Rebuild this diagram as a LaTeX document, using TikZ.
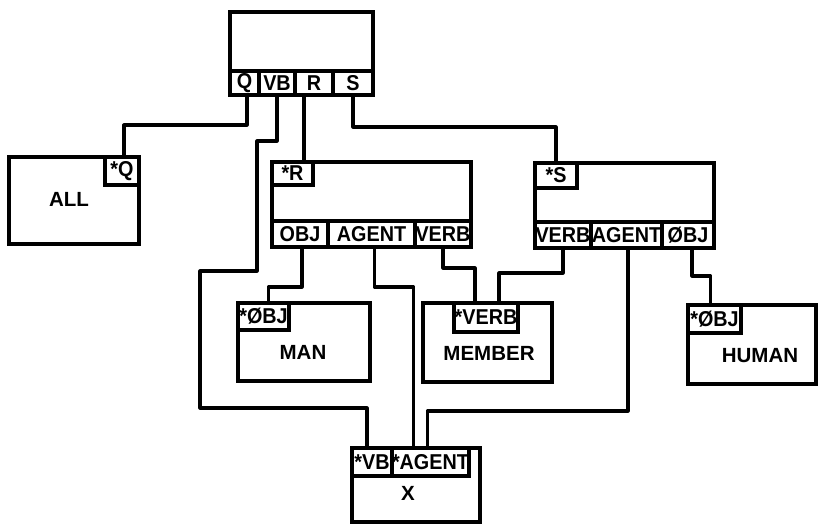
\documentclass[tikz,border=0pt]{standalone}
\usepackage{fontspec}
\setmainfont{Liberation Sans}
\newfontfamily\slotfont{Liberation Sans}[FakeStretch=0.92]
\begin{document}
\begin{tikzpicture}[x=1pt,y=-1pt,
  frame/.style={draw, line width=3.2pt, inner sep=0pt, outer sep=0pt, anchor=north west},
  slot/.style={frame, font=\slotfont\fontsize{21.5}{23}\selectfont\bfseries},
  txt/.style={inner sep=0pt, font=\fontsize{20.5}{22}\selectfont\bfseries},
  conn/.style={line width=3.2pt, line join=round}]
\useasboundingbox (0,0) rectangle (818,523);
% top box
\node[frame, minimum width=143pt, minimum height=83pt] (top) at (230,12) {};
\node[slot, minimum width=29pt, minimum height=24pt] (q) at (230,71) {Q};
\node[slot, minimum width=36pt, minimum height=24pt] (vb) at (259,71) {VB};
\node[slot, minimum width=38pt, minimum height=24pt] (r) at (295,71) {R};
\node[slot, minimum width=40pt, minimum height=24pt] (s) at (333,71) {S};
% ALL
\node[frame, minimum width=130pt, minimum height=87pt] (allbox) at (9,157) {};
\node[slot, minimum width=34pt, minimum height=28pt] (allq) at (105,157) {*Q};
\node[txt] (alltxt) at (69,199) {ALL};
% R box
\node[frame, minimum width=199pt, minimum height=85pt] (rbox) at (272,162) {};
\node[slot, minimum width=41pt, minimum height=23pt] (rstar) at (272,162) {*R};
\node[slot, minimum width=56pt, minimum height=26pt] (robj) at (272,221) {OBJ};
\node[slot, minimum width=87pt, minimum height=26pt] (ragent) at (328,221) {AGENT};
\node[slot, minimum width=56pt, minimum height=26pt] (rverb) at (415,221) {VERB};
% S box
\node[frame, minimum width=179pt, minimum height=85pt] (sbox) at (535,163) {};
\node[slot, minimum width=42pt, minimum height=25pt] (sstar) at (535,163) {*S};
\node[slot, minimum width=56pt, minimum height=26pt] (sverb) at (535,222) {VERB};
\node[slot, minimum width=71pt, minimum height=26pt] (sagent) at (591,222) {AGENT};
\node[slot, minimum width=52pt, minimum height=26pt] (sobj) at (662,222) {ØBJ};
% MAN
\node[frame, minimum width=132pt, minimum height=78pt] (manbox) at (238,303) {};
\node[slot, minimum width=51pt, minimum height=27pt] (manobj) at (238,303) {*ØBJ};
\node[txt] (mantxt) at (303,352) {MAN};
% MEMBER
\node[frame, minimum width=129pt, minimum height=79pt] (membox) at (423,303) {};
\node[slot, minimum width=64pt, minimum height=29pt] (memverb) at (454,303) {*VERB};
\node[txt] (memtxt) at (489,353) {MEMBER};
% HUMAN
\node[frame, minimum width=128pt, minimum height=79pt] (humbox) at (688,305) {};
\node[slot, minimum width=53pt, minimum height=28pt] (humobj) at (688,305) {*ØBJ};
\node[txt] (humtxt) at (760,356) {HUMAN};
% X
\node[frame, minimum width=128pt, minimum height=74pt] (xbox) at (352,448) {};
\node[slot, minimum width=40pt, minimum height=28pt] (xvb) at (352,448) {*VB};
\node[slot, minimum width=76pt, minimum height=28pt] (xagent) at (392,448) {*AGENT};
\node[txt] (xtxt) at (408,493) {X};
% connectors
\draw[conn] ([xshift=2.5pt]q.south) -- ++(0,30) -| ([xshift=2pt]allq.north);
\draw[conn] (vb.south) -- ++(0,46) -- ++(-20,0) -- ++(0,130) -- ++(-57,0) -- ++(0,137) -| ([xshift=-5pt]xvb.north);
\draw[conn] ([xshift=-10pt]r.south) -- ([xshift=-10pt]r.south |- rbox.north);
\draw[conn] (s.south) -- ++(0,32) -| (sstar.north);
\draw[conn] ([xshift=2pt]robj.south) -- ++(0,40) -| ([xshift=5pt]manobj.north);
\draw[conn] ([xshift=3pt]ragent.south) -- ++(0,40) -| ([xshift=-17pt]xagent.north);
\draw[conn] (rverb.south) -- ++(0,21) -| ([xshift=-11pt]memverb.north);
\draw[conn] (sverb.south) -- ++(0,25) -| ([xshift=13pt]memverb.north);
\draw[conn] ([xshift=1.5pt]sagent.south) -- ++(0,163) -| ([xshift=-3pt]xagent.north);
\draw[conn] ([xshift=4pt]sobj.south) -- ++(0,28) -| ([xshift=-4pt]humobj.north);
\end{tikzpicture}
\end{document}
